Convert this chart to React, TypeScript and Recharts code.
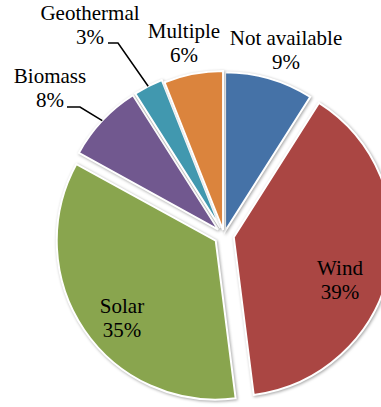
import React from 'react';
import { PieChart, Pie, Cell } from 'recharts';

const categories = ['Not available', 'Wind', 'Solar', 'Biomass', 'Geothermal', 'Multiple'];
const shares = [9, 39, 35, 8, 3, 6];
const colors = ['#4572A7', '#AA4643', '#89A54E', '#71588F', '#4198AF', '#DB843D'];

const data = categories.map((name, i) => ({ name, value: shares[i] }));

const CX = 224;
const CY = 235;
const R = 159;
// how far each slice is pulled away from the centre
const explode = [4, 10, 10, 8, 8, 5];

const total = shares.reduce((a, b) => a + b, 0);

// slice mid-angles, clockwise from 12 o'clock
const midAngles = shares.map((v, i) => {
  const before = shares.slice(0, i).reduce((a, b) => a + b, 0);
  return ((before + v / 2) / total) * 360;
});

const labelPos: Record<string, [number, number]> = {
  'Not available': [286, 45],
  Wind: [340, 275],
  Solar: [122, 313],
  Biomass: [50, 83],
  Geothermal: [90, 20],
  Multiple: [184, 38],
};

// start of the leader line next to the percentage text
const leaders: Record<string, [number, number, number]> = {
  Biomass: [67, 107, 80],
  Geothermal: [108, 43, 118],
};

const font = '"Liberation Serif", "Times New Roman", serif';

const renderLabel = (props: any) => {
  const { index, cx, cy, midAngle, percent } = props;
  const name = categories[index];
  const [x, y] = labelPos[name];
  const pct = `${Math.round(percent * 100)}%`;
  let line = null;
  const ld = leaders[name];
  if (ld) {
    const rad = (-midAngle * Math.PI) / 180;
    const r = R + explode[index];
    const ex = cx + r * Math.cos(rad);
    const ey = cy + r * Math.sin(rad);
    line = (
      <path d={`M${ld[0]},${ld[1]}H${ld[2]}L${ex},${ey}`} stroke="#000" strokeWidth={1.5} fill="none" />
    );
  }
  return (
    <g key={`lbl-${index}`}>
      {line}
      <text x={x} y={y} textAnchor="middle" fontFamily={font} fontSize={21} fill="#000">
        <tspan x={x}>{name}</tspan>
        <tspan x={x} dy={24}>{pct}</tspan>
      </text>
    </g>
  );
};

export default function App() {
  return (
    <div style={{ position: 'absolute', left: 0, top: 0, background: '#fff' }}>
      <style>{`.slice path { filter: drop-shadow(1px 1px 1.5px rgba(0,0,0,0.35)); }`}</style>
      <PieChart width={381} height={407} margin={{ top: 0, right: 0, bottom: 0, left: 0 }}>
        {categories.map((cat, i) => {
          const a = (midAngles[i] * Math.PI) / 180;
          return (
            <Pie
              key={cat}
              className="slice"
              data={data}
              dataKey="value"
              nameKey="name"
              cx={CX + explode[i] * Math.sin(a)}
              cy={CY - explode[i] * Math.cos(a)}
              outerRadius={R}
              startAngle={90}
              endAngle={-270}
              isAnimationActive={false}
            >
              {data.map((d, j) => (
                <Cell
                  key={d.name}
                  fill={i === j ? colors[j] : 'none'}
                  stroke={i === j ? '#fff' : 'none'}
                  strokeWidth={2}
                />
              ))}
            </Pie>
          );
        })}
        <Pie
          data={data}
          dataKey="value"
          nameKey="name"
          cx={CX}
          cy={CY}
          outerRadius={R}
          startAngle={90}
          endAngle={-270}
          fill="none"
          stroke="none"
          label={renderLabel}
          labelLine={false}
          isAnimationActive={false}
        >
          {data.map((d) => (
            <Cell key={d.name} fill="none" stroke="none" />
          ))}
        </Pie>
      </PieChart>
    </div>
  );
}
